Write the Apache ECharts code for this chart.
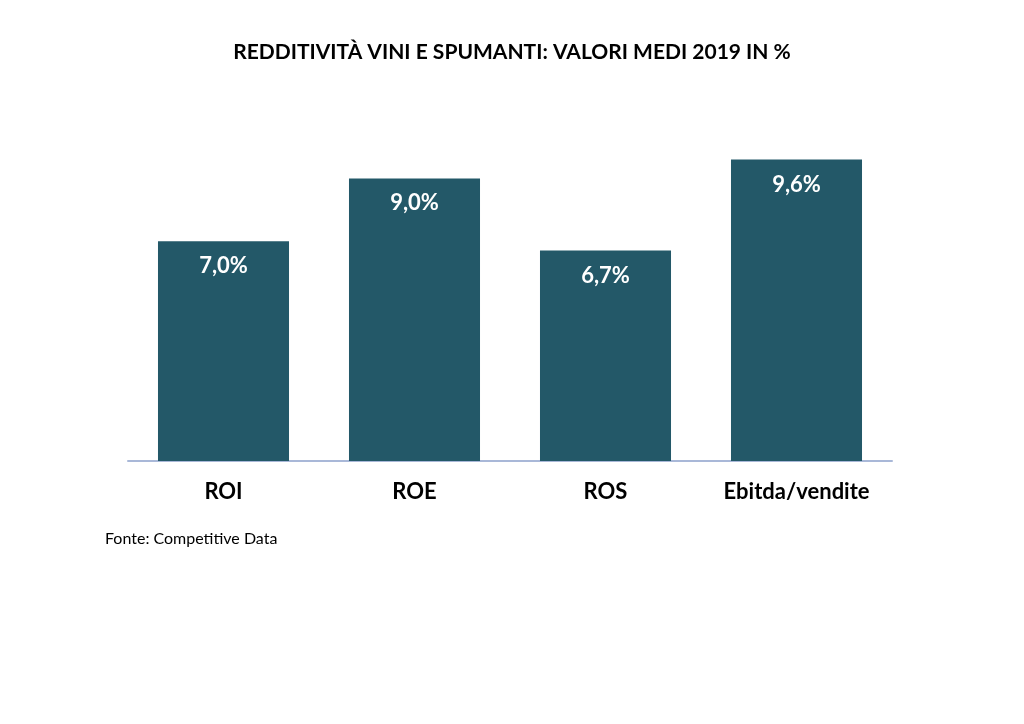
<!DOCTYPE html>
<html>
<head>
  <meta charset="utf-8">
  <title>Redditività vini e spumanti</title>
  <script src="https://cdn.jsdelivr.net/npm/echarts@6/dist/echarts.min.js"></script>
  <style type="text/css">
    html, body { margin: 0; background-color: #ffffff; }
    #main { width: 1024px; height: 724px; }
  </style>
</head>
<body>
  <div id="main"></div>
  <script type="text/javascript">
    // dati
    var categories = ['ROI', 'ROE', 'ROS', 'Ebitda/vendite'];
    var values = [7.0, 9.0, 6.7, 9.6];
    var titleText = 'REDDITIVITÀ VINI E SPUMANTI: VALORI MEDI 2019 IN %';
    var sourceText = 'Fonte: Competitive Data';

    var font = 'Lato, "Open Sans", sans-serif';
    var myChart = echarts.init(document.getElementById('main'));

    var option = {
      backgroundColor: '#ffffff',
      animation: false,
      title: [{
        text: titleText,
        left: 'center',
        top: 37,
        textStyle: { color: '#000000', fontSize: 21, fontWeight: 'bold', fontFamily: font }
      }, {
        text: sourceText,
        left: 100,
        top: 526,
        textStyle: { color: '#000000', fontSize: 16, fontWeight: 'normal', fontFamily: font }
      }],
      grid: { left: 128, right: 132, top: 147, bottom: 263 },
      xAxis: {
        type: 'category',
        data: categories,
        axisLine: { lineStyle: { color: '#a9b8d8', width: 2 } },
        axisTick: { show: false },
        axisLabel: { color: '#000000', fontSize: 22, fontWeight: 'bold', fontFamily: font, margin: 20 }
      },
      yAxis: {
        type: 'value',
        min: 0,
        max: 10,
        show: false
      },
      series: [{
        type: 'bar',
        data: values,
        barWidth: '68.6%',
        itemStyle: { color: '#235868' },
        label: {
          show: true,
          position: 'insideTop',
          distance: 14,
          color: '#ffffff',
          fontSize: 22,
          fontWeight: 'bold',
          fontFamily: font,
          formatter: function (p) { return p.value.toFixed(1).replace('.', ',') + '%'; }
        }
      }]
    };

    myChart.setOption(option);
  </script>
</body>
</html>
